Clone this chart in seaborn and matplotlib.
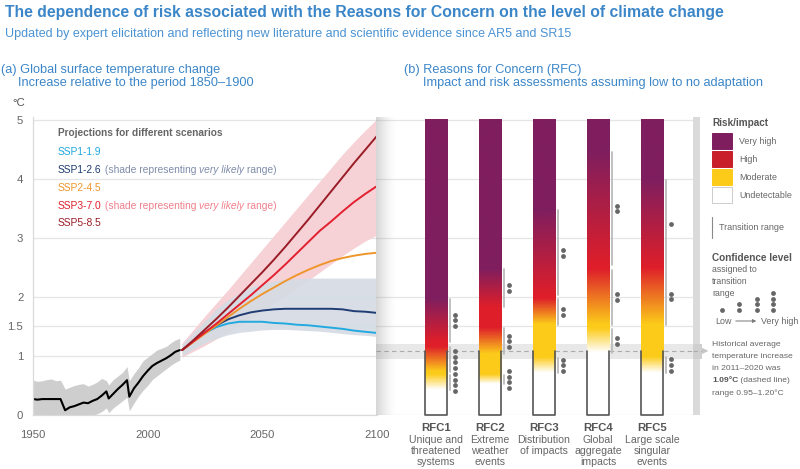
import numpy as np
import pandas as pd
import matplotlib
matplotlib.use('Agg')
import matplotlib.pyplot as plt
import matplotlib.transforms as mtrans
import seaborn as sns
from matplotlib.colors import LinearSegmentedColormap
from matplotlib.patches import Rectangle

sns.set_style('white')
plt.rcParams['font.family'] = ['Liberation Sans', 'DejaVu Sans']

# ---- panel (a): observed / historical
hist_years = [1950, 1952, 1954, 1956, 1958, 1960, 1962, 1964, 1966, 1968, 1970, 1972, 1974, 1976, 1978, 1980, 1982,
              1983, 1985, 1987, 1989, 1991, 1992, 1994, 1996, 1998, 2000, 2002, 2004, 2006, 2008, 2010, 2012, 2014]
hist_mean = [0.27, 0.26, 0.27, 0.27, 0.27, 0.27, 0.27, 0.08, 0.13, 0.15, 0.18, 0.21, 0.20, 0.24, 0.27, 0.33, 0.40,
             0.28, 0.36, 0.44, 0.51, 0.59, 0.31, 0.45, 0.55, 0.66, 0.75, 0.83, 0.88, 0.92, 0.96, 1.01, 1.07, 1.10]
hist_high = [0.59, 0.57, 0.58, 0.60, 0.61, 0.58, 0.59, 0.44, 0.47, 0.50, 0.52, 0.53, 0.49, 0.52, 0.56, 0.62, 0.58,
             0.51, 0.60, 0.66, 0.72, 0.82, 0.58, 0.70, 0.80, 0.92, 0.98, 1.04, 1.10, 1.13, 1.16, 1.22, 1.27, 1.30]
hist_low = [-0.02, -0.02, 0.00, 0.01, 0.00, 0.00, 0.01, -0.12, -0.08, -0.05, -0.03, -0.02, -0.04, 0.00, 0.02, 0.06, 0.12,
            0.04, 0.12, 0.18, 0.24, 0.30, 0.07, 0.20, 0.32, 0.42, 0.50, 0.60, 0.66, 0.72, 0.78, 0.84, 0.89, 0.93]

# ---- panel (a): projections
proj_years = [2015, 2020, 2025, 2030, 2035, 2040, 2045, 2050, 2055, 2060, 2065, 2070, 2075, 2080, 2085, 2090, 2095, 2100]
ssp119 = [1.10, 1.25, 1.39, 1.49, 1.55, 1.58, 1.58, 1.58, 1.56, 1.55, 1.53, 1.52, 1.50, 1.48, 1.46, 1.43, 1.41, 1.39]
ssp126 = [1.10, 1.25, 1.40, 1.52, 1.62, 1.69, 1.74, 1.77, 1.79, 1.80, 1.80, 1.80, 1.80, 1.80, 1.79, 1.76, 1.75, 1.73]
ssp245 = [1.10, 1.24, 1.38, 1.52, 1.66, 1.80, 1.93, 2.05, 2.16, 2.27, 2.37, 2.46, 2.54, 2.61, 2.66, 2.70, 2.73, 2.75]
ssp370 = [1.10, 1.25, 1.40, 1.55, 1.71, 1.87, 2.03, 2.20, 2.37, 2.55, 2.74, 2.93, 3.12, 3.28, 3.45, 3.61, 3.75, 3.88]
ssp585 = [1.10, 1.27, 1.45, 1.63, 1.82, 2.02, 2.22, 2.42, 2.63, 2.85, 3.08, 3.31, 3.55, 3.79, 4.03, 4.27, 4.50, 4.73]
ssp126_high = [1.20, 1.40, 1.60, 1.80, 1.95, 2.07, 2.17, 2.22, 2.27, 2.30, 2.31, 2.32, 2.32, 2.32, 2.32, 2.32, 2.32, 2.32]
ssp126_low = [1.00, 1.12, 1.22, 1.30, 1.36, 1.40, 1.42, 1.44, 1.45, 1.45, 1.44, 1.43, 1.42, 1.40, 1.38, 1.36, 1.35, 1.33]
ssp370_high = [1.22, 1.45, 1.68, 1.90, 2.12, 2.35, 2.58, 2.81, 3.04, 3.27, 3.50, 3.73, 3.96, 4.19, 4.42, 4.63, 4.83, 5.02]
ssp370_low = [0.98, 1.08, 1.18, 1.29, 1.40, 1.52, 1.64, 1.76, 1.89, 2.02, 2.15, 2.28, 2.42, 2.56, 2.70, 2.83, 2.95, 3.05]

scenarios = ['SSP1-1.9', 'SSP1-2.6', 'SSP2-4.5', 'SSP3-7.0', 'SSP5-8.5']
scen_colors = ['#22A9E0', '#1F3C73', '#EE962C', '#E2202F', '#9A1C26']

# ---- panel (b): reasons for concern, transition ranges in degC
rfc_names = ['RFC1', 'RFC2', 'RFC3', 'RFC4', 'RFC5']
rfc_desc = [['Unique and', 'threatened', 'systems'], ['Extreme', 'weather', 'events'],
            ['Distribution', 'of impacts'], ['Global', 'aggregate', 'impacts'],
            ['Large scale', 'singular', 'events']]
um_lo = [0.42, 0.52, 0.71, 1.05, 0.71]   # undetectable -> moderate
um_hi = [0.68, 0.68, 0.97, 1.46, 0.98]
um_conf = [4, 4, 3, 2, 3]
mh_lo = [0.73, 1.03, 1.53, 1.53, 1.53]   # moderate -> high
mh_hi = [1.15, 1.47, 1.97, 2.46, 2.49]
mh_conf = [4, 3, 2, 2, 2]
hv_lo = [1.24, 1.83, 2.03, 2.54, 2.51]   # high -> very high
hv_hi = [1.97, 2.47, 3.47, 4.46, 3.98]
hv_conf = [3, 2, 2, 2, 1]
hist_avg = 1.09
hist_range = (0.95, 1.20)

temp_ticks = [0, 1, 1.5, 2, 3, 4, 5]
temp_labels = ['0', '1', '1.5', '2', '3', '4', '5']

c_none, c_mod, c_high, c_vhigh = '#FFFFFF', '#FCCB1A', '#DE1F2A', '#7F1E5F'
blue = '#3B86C8'
dot_c = '#666666'

W, H = 800, 469
ymax = 5.05
fig = plt.figure(figsize=(8, 4.69), dpi=100)


def ty(t):
    return 415 - t * 298 / ymax


ax_l = fig.add_axes([33 / W, 1 - 415 / H, 344 / W, 298 / H])
ax_r = fig.add_axes([376 / W, 1 - 415 / H, 317 / W, 298 / H])
ov = fig.add_axes([0, 0, 1, 1])
ov.set_xlim(0, W)
ov.set_ylim(H, 0)
ov.axis('off')

# ---------- panel (a)
ax_l.fill_between(hist_years, hist_low, hist_high, color='#CECECE', lw=0)
sns.lineplot(x=hist_years, y=hist_mean, color='black', lw=1.5, ax=ax_l)
ax_l.fill_between(proj_years, ssp370_low, ssp370_high, color='#F6D2D7', lw=0)
ax_l.fill_between(proj_years, ssp126_low, ssp126_high, color='#D5DBE4', alpha=0.9, lw=0)
proj = pd.DataFrame({
    'year': proj_years * 5,
    'temp': ssp119 + ssp126 + ssp245 + ssp370 + ssp585,
    'scenario': np.repeat(scenarios, len(proj_years)),
})
sns.lineplot(data=proj, x='year', y='temp', hue='scenario', hue_order=scenarios,
             palette=dict(zip(scenarios, scen_colors)), legend=False, lw=1.4, ax=ax_l)

ax_l.set_xlim(1950, 2100)
ax_l.set_ylim(0, ymax)
ax_l.set_yticks(temp_ticks, temp_labels)
ax_l.set_xticks([1950, 2000, 2050, 2100])
ax_l.set_xticks(range(1950, 2101, 10), minor=True)
ax_l.grid(axis='y', color='#E5E5E5', lw=0.9)
ax_l.set_axisbelow(True)
ax_l.set_xlabel('')
ax_l.set_ylabel('')
for side in ['top', 'right']:
    ax_l.spines[side].set_visible(False)
for side in ['left', 'bottom']:
    ax_l.spines[side].set_color('#DADADA')
    ax_l.spines[side].set_linewidth(0.9)
ax_l.tick_params(axis='y', length=0, pad=7, labelsize=8.2, labelcolor='#666666')
ax_l.tick_params(axis='x', which='both', length=3, color='#CCCCCC', pad=8, labelsize=8.2, labelcolor='#666666')

# ---------- panel (b)
ax_r.set_xlim(-1.111, 4.759)
ax_r.set_ylim(0, ymax)
ax_r.set_yticks(temp_ticks)
ax_r.set_xticks([])
ax_r.grid(axis='y', color='#E5E5E5', lw=0.9)
ax_r.set_axisbelow(True)
ax_r.tick_params(axis='y', length=0, labelleft=False)
for side in ax_r.spines:
    ax_r.spines[side].set_visible(False)
ax_r.axhspan(*hist_range, color='#E8E8E8', lw=0, zorder=1)
ax_r.axhline(hist_avg, color='#ABABAB', lw=0.8, ls=(0, (4, 3)), zorder=1.5)

# shadow on left edge of the panel
shade = np.zeros((1, 60, 4))
shade[..., :3] = 0.5
shade[0, :, 3] = np.linspace(0.5, 0, 60) ** 1.6
ax_r.imshow(shade, extent=(-1.111, -1.111 + 20 / 54, 0, ymax), aspect='auto', zorder=2)

bar_w = 0.41
col = np.linspace(0, 5, 600).reshape(-1, 1)
for i, name in enumerate(rfc_names):
    stops = [(0, c_none), (um_lo[i] / 5, c_none), (um_hi[i] / 5, c_mod), (mh_lo[i] / 5, c_mod),
             (mh_hi[i] / 5, c_high), (hv_lo[i] / 5, c_high), (hv_hi[i] / 5, c_vhigh), (1, c_vhigh)]
    cmap = LinearSegmentedColormap.from_list(name, stops)
    ax_r.imshow(col, cmap=cmap, vmin=0, vmax=5, origin='lower', aspect='auto',
                extent=(i - bar_w / 2, i + bar_w / 2, 0, 5), zorder=3, interpolation='bilinear')
    ax_r.plot([i - bar_w / 2, i - bar_w / 2, i + bar_w / 2, i + bar_w / 2], [hist_avg, 0, 0, hist_avg],
              color='#555555', lw=1.2, zorder=4, clip_on=False)
    x_line = i + bar_w / 2 + 0.06
    x_dot = i + bar_w / 2 + 0.15
    for lo, hi, conf in [(um_lo[i], um_hi[i], um_conf[i]), (mh_lo[i], mh_hi[i], mh_conf[i]),
                         (hv_lo[i], hv_hi[i], hv_conf[i])]:
        ax_r.plot([x_line, x_line], [lo, hi], color='#BBBBBB', lw=1.3, zorder=3)
        ys = (lo + hi) / 2 + (np.arange(conf) - (conf - 1) / 2) * 0.097
        ax_r.scatter([x_dot] * conf, ys, s=12, color=dot_c, lw=0, zorder=4)

# labels under bars (data x, pixel y)
lab_tr = mtrans.blended_transform_factory(ax_r.transData, ov.transData)
for i, name in enumerate(rfc_names):
    ov.text(i, 428, name, transform=lab_tr, ha='center', va='center', fontsize=8.2,
            weight='bold', color='#555555')
    for j, line in enumerate(rfc_desc[i]):
        ov.text(i, 440 + 11 * j, line, transform=lab_tr, ha='center', va='center',
                fontsize=7.6, color='#666666')

# right strip and historical pointer
ov.add_patch(Rectangle((693, 117), 7, 298, color='#DADADA', lw=0))
ov.add_patch(Rectangle((693, ty(hist_range[1])), 9, ty(hist_range[0]) - ty(hist_range[1]),
                       color='#CFCFCF', lw=0))
ov.plot([693, 702], [ty(hist_avg)] * 2, color='#ABABAB', lw=0.8, ls=(0, (4, 3)))
ov.text(702, ty(hist_avg), '\u25B6', fontsize=6, color='#C4C4C4', va='center', family='DejaVu Sans')

# ---------- titles
ov.text(5, 12, 'The dependence of risk associated with the Reasons for Concern on the level of climate change',
        fontsize=11.3, weight='bold', color=blue, va='center')
ov.text(5, 34, 'Updated by expert elicitation and reflecting new literature and scientific evidence since AR5 and SR15',
        fontsize=9.0, color='#4B93D3', va='center')
ov.text(1, 70, '(a) Global surface temperature change', fontsize=9.2, color=blue, va='center')
ov.text(18, 83, 'Increase relative to the period 1850\u20131900', fontsize=9.2, color=blue, va='center')
ov.text(404, 70, '(b) Reasons for Concern (RFC)', fontsize=9.2, color=blue, va='center')
ov.text(423, 83, 'Impact and risk assessments assuming low to no adaptation', fontsize=9.2, color=blue, va='center')
ov.text(12, 103, '\u00B0C', fontsize=8.2, color='#555555', va='center')


def runs(x, y, parts, size):
    s, c, st, wt = parts[0]
    t = ov.text(x, y, s, color=c, style=st, weight=wt, fontsize=size, va='center')
    for s, c, st, wt in parts[1:]:
        t = ov.annotate(s, xy=(1, 0.5), xycoords=t, va='center', ha='left', color=c,
                        style=st, weight=wt, fontsize=size)


# ---------- legend of panel (a)
ov.text(58, 133, 'Projections for different scenarios', fontsize=7.3, weight='bold', color='#666666', va='center')
leg_y = [152, 170, 188, 206, 223]
for k, (sc, c) in enumerate(zip(scenarios, scen_colors)):
    if sc == 'SSP1-2.6':
        sub = '#7F8DAA'
    elif sc == 'SSP3-7.0':
        sub = '#F0808C'
    else:
        sub = None
    if sub is None:
        ov.text(58, leg_y[k], sc, fontsize=7.35, color=c, va='center')
    else:
        runs(58, leg_y[k], [(sc, c, 'normal', 'normal'), (' (shade representing ', sub, 'normal', 'normal'),
                            ('very likely', sub, 'italic', 'normal'), (' range)', sub, 'normal', 'normal')], 7.35)

# ---------- legend of panel (b)
ov.text(712, 123, 'Risk/impact', fontsize=7.2, weight='bold', color='#555555', va='center')
sw_y = [133, 151, 169, 187]
sw_c = [c_vhigh, '#C81F2B', c_mod, c_none]
sw_l = ['Very high', 'High', 'Moderate', 'Undetectable']
for yy, cc, ll in zip(sw_y, sw_c, sw_l):
    ov.add_patch(Rectangle((712, yy), 20, 16, facecolor=cc, edgecolor='#CCCCCC' if cc == c_none else cc, lw=0.7))
    ov.text(739, yy + 8, ll, fontsize=6.4, color='#666666', va='center')
ov.plot([712, 712], [217, 238], color='#888888', lw=0.8)
ov.text(719, 228, 'Transition range', fontsize=6.5, color='#666666', va='center')
ov.text(712, 258, 'Confidence level', fontsize=7.2, weight='bold', color='#555555', va='center')
for k, ll in enumerate(['assigned to', 'transition', 'range']):
    ov.text(712, 270 + 11.5 * k, ll, fontsize=6.3, color='#666666', va='center')
for k, xx in enumerate([722, 739, 757, 773]):
    ov.scatter([xx] * (k + 1), [310 - 5.7 * m for m in range(k + 1)], s=12, color=dot_c, lw=0)
ov.text(723, 321, 'Low', fontsize=6.4, color='#666666', va='center', ha='center')
ov.annotate('', xy=(759, 321), xytext=(733, 321),
            arrowprops=dict(arrowstyle='-|>', color='#777777', lw=0.7, mutation_scale=5))
ov.text(761, 321, 'Very high', fontsize=6.4, color='#666666', va='center')
hist_lines = ['Historical average', 'temperature increase', 'in 2011\u20132020 was']
for k, ll in enumerate(hist_lines):
    ov.text(712, 345 + 12 * k, ll, fontsize=6.1, color='#666666', va='center')
runs(712, 381, [('1.09\u00B0C', '#555555', 'normal', 'bold'), (' (dashed line)', '#666666', 'normal', 'normal')], 6.1)
ov.text(712, 393, 'range 0.95\u20131.20\u00B0C', fontsize=6.1, color='#666666', va='center')

fig.savefig('out.png', dpi=100)
